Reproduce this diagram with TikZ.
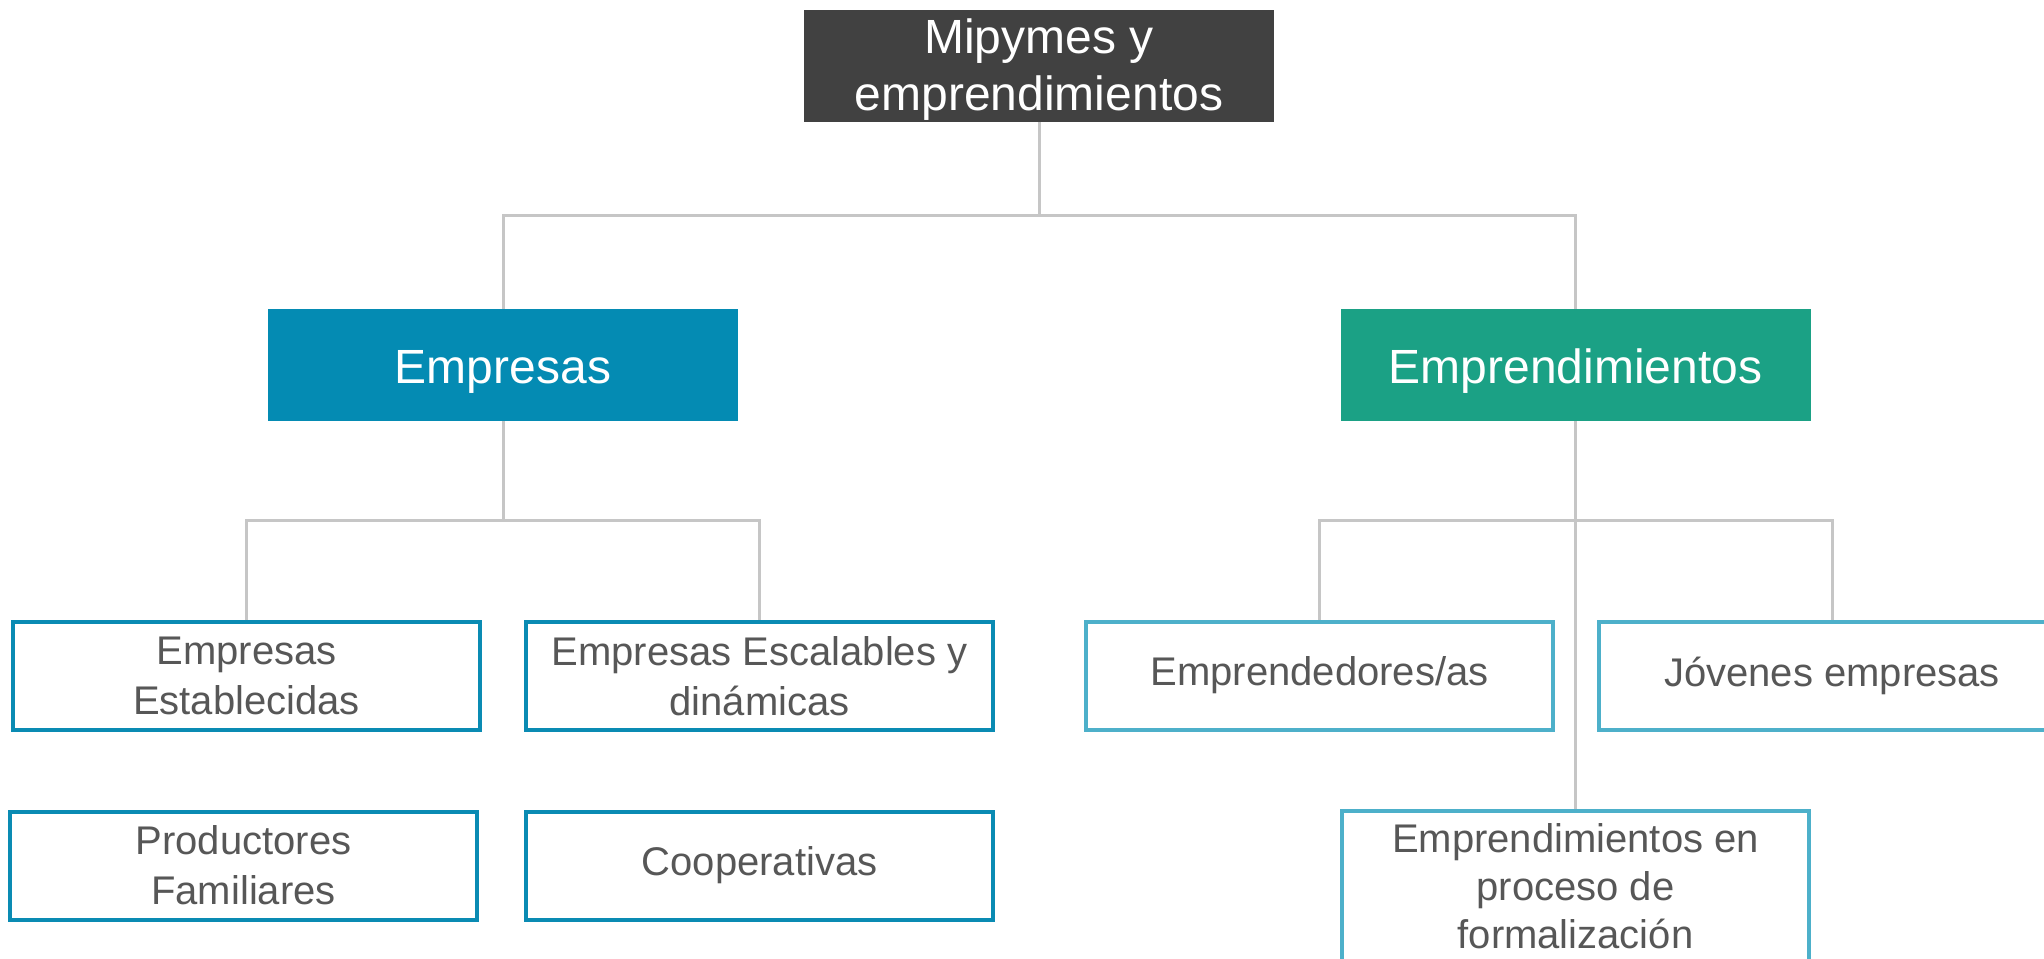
\documentclass[tikz,border=0pt]{standalone}
\usepackage{fontspec}
\setmainfont{Liberation Sans}
\definecolor{topgray}{HTML}{414141}
\definecolor{empblue}{HTML}{048BB3}
\definecolor{emdgreen}{HTML}{1BA185}
\definecolor{leftborder}{HTML}{0A8BB3}
\definecolor{rightborder}{HTML}{4DB0CA}
\definecolor{txtgray}{HTML}{575757}
\definecolor{conngray}{HTML}{C6C6C6}
\tikzset{
  headbox/.style={draw=none, text=white, minimum width=235pt, minimum height=56pt,
    inner sep=0pt, align=center, font=\fontsize{24}{28.5}\selectfont},
  leafbox/.style={draw, line width=2pt, fill=white, text=txtgray, minimum width=233.5pt,
    minimum height=54pt, inner sep=0pt, align=center, font=\fontsize{20}{25}\selectfont},
  leftleaf/.style={leafbox, draw=leftborder},
  rightleaf/.style={leafbox, draw=rightborder},
  conn/.style={draw=conngray, line width=1.5pt}
}
\begin{document}
\begin{tikzpicture}[x=0.5pt,y=-0.5pt]
\useasboundingbox (0,0) rectangle (2044,958);
\clip (0,0) rectangle (2044,958);
\fill[white] (0,0) rectangle (2044,958);
\coordinate (b1) at (0,215);
\coordinate (b2) at (0,520);
\node[headbox, fill=topgray, text height=44pt, text depth=0pt] (top) at (1039,66) {Mipymes y\\emprendimientos};
\node[headbox, fill=empblue, text height=18pt, text depth=0pt] (emp) at (503,365) {Empresas};
\node[headbox, fill=emdgreen, text height=18pt, text depth=0pt] (emd) at (1575.5,365) {Emprendimientos};
\draw[conn] (top.south) -- (top.south |- b1);
\draw[conn] (emp.north) -- (emp.north |- b1) -- (emd.north |- b1) -- (emd.north);
\node[leftleaf] (est) at (246.5,676) {Empresas\\Establecidas};
\node[leftleaf] (esc) at (759.5,676) {Empresas Escalables y\\dinámicas};
\node[leftleaf] (prod) at (243.5,865.5) {Productores\\Familiares};
\node[leftleaf] (coop) at (759.5,865.5) {Cooperativas};
\node[rightleaf] (empr) at (1319.5,675.5) {Emprendedores/as};
\node[rightleaf] (jov) at (1832,675.5) {Jóvenes empresas};
\node[rightleaf, minimum height=75pt, font=\fontsize{20}{24}\selectfont] (form) at (1575.5,886) {Emprendimientos en\\proceso de\\formalización};
\draw[conn] (emp.south) -- (emp.south |- b2);
\draw[conn] (est.north) -- (est.north |- b2) -- (esc.north |- b2) -- (esc.north);
\draw[conn] (emd.south) -- (form.north);
\draw[conn] (empr.north) -- (empr.north |- b2) -- (jov.north |- b2) -- (jov.north);
\end{tikzpicture}
\end{document}
